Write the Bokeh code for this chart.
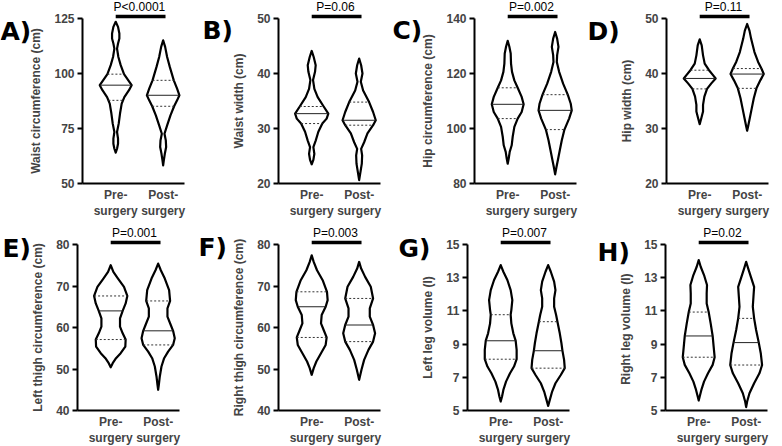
import numpy as np
from bokeh.plotting import figure
from bokeh.models import Range1d, Label, Arrow, FixedTicker
from bokeh.layouts import row, column
from bokeh.embed import file_html
from bokeh.resources import INLINE

# ---------------- data ----------------
groups = ["Pre-\nsurgery", "Post-\nsurgery"]
panel_letters = ["A)", "B)", "C)", "D)", "E)", "F)", "G)", "H)"]
y_titles = ["Waist circumference (cm)", "Waist width (cm)", "Hip circumference (cm)", "Hip width (cm)",
            "Left thigh circumference (cm)", "Right thigh circumference (cm)",
            "Left leg volume (l)", "Right  leg volume (l)"]
p_values = ["P<0.0001", "P=0.06", "P=0.002", "P=0.11", "P=0.001", "P=0.003", "P=0.007", "P=0.02"]
y_starts = [50, 20, 80, 20, 40, 40, 5, 5]
y_ends = [125, 50, 140, 50, 80, 80, 15, 15]
y_ticks = [[50, 75, 100, 125], [20, 30, 40, 50], [80, 100, 120, 140], [20, 30, 40, 50],
           [40, 50, 60, 70, 80], [40, 50, 60, 70, 80], [5, 7, 9, 11, 13, 15], [5, 7, 9, 11, 13, 15]]

# violin profiles: y value and relative density (0..50)
A_pre_y = [123.5, 121.2, 118.2, 115.9, 113.6, 111.3, 107.5, 103.8, 99.7, 96.9, 94.7, 92.4, 89.3, 86.3, 81.8, 77.2, 73.4, 70.4, 68.1, 65.8, 64.0]
A_pre_w = [0, 7, 11, 11, 7, 4, 8, 15, 25, 38, 48, 40, 26, 18, 13, 9, 4, 7, 7, 4, 0]
A_post_y = [115.1, 112.1, 107.5, 103.0, 96.9, 93.1, 90.1, 87.8, 85.1, 81.0, 76.4, 72.6, 69.6, 66.6, 63.5, 60.5, 58.2]
A_post_w = [0, 6, 12, 20, 32, 42, 49, 42, 33, 22, 12, 4, 8, 9, 5, 2, 0]
B_pre_y = [44.1, 43.0, 41.5, 40.3, 38.8, 37.2, 35.7, 34.0, 32.7, 31.8, 30.9, 29.4, 27.8, 26.6, 25.4, 24.3, 23.5]
B_pre_w = [0, 6, 12, 10, 4, 8, 18, 36, 50, 45, 32, 20, 12, 5, 8, 5, 0]
B_post_y = [42.7, 41.5, 40.0, 38.5, 36.9, 34.8, 33.0, 31.5, 30.6, 29.1, 27.5, 26.3, 25.1, 23.6, 22.1, 20.6]
B_post_w = [0, 6, 10, 5, 12, 30, 42, 50, 42, 25, 15, 6, 9, 8, 4, 0]
C_pre_y = [131.9, 129.7, 127.3, 123.6, 120.6, 117.5, 114.8, 111.5, 108.8, 106.0, 103.6, 100.6, 97.0, 93.9, 91.5, 89.1, 87.2]
C_pre_w = [0, 5, 9, 10, 13, 20, 30, 42, 48, 42, 30, 20, 15, 12, 6, 3, 0]
C_post_y = [135.1, 132.7, 129.7, 126.7, 124.2, 120.6, 116.3, 112.3, 109.0, 106.6, 103.6, 99.6, 95.7, 92.1, 89.0, 86.0, 83.3]
C_post_w = [0, 6, 10, 6, 5, 12, 24, 38, 47, 50, 42, 28, 20, 14, 9, 4, 0]
D_pre_y = [46.2, 45.1, 43.3, 41.8, 40.6, 39.7, 39.1, 38.2, 37.2, 35.8, 34.3, 33.1, 31.9, 30.8]
D_pre_w = [0, 6, 10, 15, 28, 40, 48, 35, 22, 14, 10, 10, 5, 0]
D_post_y = [49.0, 47.8, 46.3, 43.9, 42.1, 40.9, 39.9, 38.8, 37.3, 35.5, 33.7, 31.9, 30.4, 29.6]
D_post_w = [0, 7, 12, 22, 33, 43, 50, 40, 28, 20, 14, 8, 3, 0]
E_pre_y = [75.0, 73.4, 71.8, 69.8, 67.6, 65.8, 64.0, 62.2, 60.2, 58.6, 57.1, 55.4, 53.8, 52.6, 51.4, 50.4]
E_pre_w = [0, 8, 22, 40, 50, 45, 36, 28, 28, 36, 45, 44, 30, 16, 6, 0]
E_post_y = [75.4, 73.8, 71.8, 69.0, 66.4, 64.6, 62.6, 60.6, 59.2, 57.4, 55.8, 54.2, 52.6, 50.6, 48.2, 46.2, 45.0]
E_post_w = [0, 8, 20, 33, 36, 28, 28, 38, 45, 50, 45, 30, 18, 10, 5, 2, 0]
F_pre_y = [77.4, 75.8, 73.8, 71.4, 68.6, 66.6, 65.0, 63.0, 61.0, 59.4, 57.6, 55.8, 53.8, 51.8, 50.2, 48.6]
F_pre_w = [0, 6, 16, 33, 46, 48, 42, 30, 28, 36, 45, 42, 28, 14, 6, 0]
F_post_y = [75.8, 74.2, 72.2, 69.8, 67.0, 64.6, 62.6, 60.6, 58.6, 56.6, 54.6, 52.2, 49.8, 47.4]
F_post_w = [0, 6, 18, 35, 42, 32, 32, 42, 48, 42, 28, 15, 7, 0]
G_pre_y = [13.76, 13.36, 12.86, 12.25, 11.65, 11.05, 10.77, 10.25, 9.65, 9.21, 8.65, 8.09, 7.65, 7.24, 6.74, 6.24, 5.84, 5.54]
G_pre_w = [0, 8, 20, 30, 35, 32, 30, 32, 38, 45, 48, 48, 40, 28, 16, 8, 4, 0]
G_post_y = [13.76, 13.36, 12.76, 12.25, 11.75, 11.25, 10.75, 10.35, 9.65, 9.05, 8.61, 8.05, 7.55, 7.14, 6.64, 6.14, 5.64, 5.28]
G_post_w = [0, 8, 18, 22, 18, 18, 24, 28, 35, 40, 43, 48, 50, 38, 22, 12, 5, 0]
H_pre_y = [14.06, 13.66, 13.16, 12.56, 12.05, 11.45, 10.93, 10.25, 9.49, 8.85, 8.21, 7.75, 7.24, 6.74, 6.24, 5.84, 5.60]
H_pre_w = [0, 6, 16, 25, 24, 24, 30, 36, 42, 45, 48, 42, 28, 16, 8, 3, 0]
H_post_y = [13.96, 13.56, 13.06, 12.45, 11.85, 11.25, 10.55, 9.85, 9.09, 8.45, 7.74, 7.24, 6.64, 6.04, 5.54, 5.20]
H_post_w = [0, 6, 14, 24, 22, 20, 24, 30, 38, 44, 48, 40, 24, 10, 3, 0]

# quartiles: [Q1, median, Q3]
A_pre_q = [87.8, 94.7, 99.7];   A_post_q = [85.1, 90.1, 96.9]
B_pre_q = [30.9, 32.7, 34.0];   B_post_q = [30.6, 31.5, 34.8]
C_pre_q = [103.6, 108.8, 114.8]; C_post_q = [99.6, 106.6, 112.3]
D_pre_q = [37.2, 39.1, 40.6];   D_post_q = [37.3, 39.9, 40.9]
E_pre_q = [57.1, 64.0, 67.6];   E_post_q = [55.8, 59.2, 66.4]
F_pre_q = [57.6, 65.0, 68.6];   F_post_q = [56.6, 60.6, 67.0]
G_pre_q = [8.09, 9.2, 10.77];   G_post_q = [7.55, 8.6, 10.35]
H_pre_q = [8.21, 9.49, 10.93];  H_post_q = [7.74, 9.09, 10.55]

violins = [
    [(A_pre_y, A_pre_w, A_pre_q), (A_post_y, A_post_w, A_post_q)],
    [(B_pre_y, B_pre_w, B_pre_q), (B_post_y, B_post_w, B_post_q)],
    [(C_pre_y, C_pre_w, C_pre_q), (C_post_y, C_post_w, C_post_q)],
    [(D_pre_y, D_pre_w, D_pre_q), (D_post_y, D_post_w, D_post_q)],
    [(E_pre_y, E_pre_w, E_pre_q), (E_post_y, E_post_w, E_post_q)],
    [(F_pre_y, F_pre_w, F_pre_q), (F_post_y, F_post_w, F_post_q)],
    [(G_pre_y, G_pre_w, G_pre_q), (G_post_y, G_post_w, G_post_q)],
    [(H_pre_y, H_pre_w, H_pre_q), (H_post_y, H_post_w, H_post_q)],
]

# ---------------- layout / style ----------------
FONT = "Liberation Sans"
HALF = 0.35 / 50.0
X0, X1 = 0.3, 2.45
fig_w = [195, 195, 195, 197, 195, 195, 195, 197]
left_b = [82, 83, 84, 81, 77, 83, 77, 80]
frame_w = 102
letter_pos = [(0, 31), (7, 30), (2, 30), (2, 31), (2, 25), (3, 24), (8, 25), (12, 29)]


def make_panel(i):
    top = 18 if i < 4 else 21
    plot_h = 165 if i < 4 else 166
    bottom = 223 - top - plot_h
    upp_x = (X1 - X0) / frame_w
    span = y_ends[i] - y_starts[i]
    upp_y = span / plot_h
    x_lo = X0 - left_b[i] * upp_x
    x_hi = X0 + (fig_w[i] - left_b[i]) * upp_x
    y_lo = y_starts[i] - bottom * upp_y
    y_hi = y_ends[i] + top * upp_y
    p = figure(width=fig_w[i], height=223, output_backend="svg", toolbar_location=None,
               x_range=Range1d(x_lo, x_hi), y_range=Range1d(y_lo, y_hi),
               min_border_left=0, min_border_right=0, min_border_top=0, min_border_bottom=0)
    p.outline_line_color = None
    p.grid.visible = False
    for k, (ys, ws, qs) in enumerate(violins[i]):
        cx = k + 1
        ys = np.array(ys, dtype=float)
        ws = np.array(ws, dtype=float) * HALF
        xs = np.concatenate([cx + ws, (cx - ws)[::-1]])
        yy = np.concatenate([ys, ys[::-1]])
        p.patch(xs, yy, fill_color="white", line_color="black", line_width=2.2, line_join="round")
        order = np.argsort(ys)
        hw = np.interp(qs, ys[order], ws[order])
        p.segment(x0=[cx - hw[0], cx - hw[2]], y0=[qs[0], qs[2]], x1=[cx + hw[0], cx + hw[2]], y1=[qs[0], qs[2]],
                  line_color="#333333", line_width=1, line_dash="2 2")
        p.segment(x0=[cx - hw[1]], y0=[qs[1]], x1=[cx + hw[1]], y1=[qs[1]], line_color="#222222", line_width=1)

    bar_y = y_ends[i] + 2 * upp_y
    p.add_layout(Arrow(x_start=1.0, y_start=bar_y, x_end=2.05, y_end=bar_y, start=None, end=None,
                       line_width=3.5, line_color="black"))
    p.add_layout(Label(x=1.5, y=bar_y, y_offset=3, text=p_values[i], text_align="center",
                       text_baseline="bottom", text_font=FONT, text_font_size="12px", text_color="black"))
    lx, ly = letter_pos[i]
    p.add_layout(Label(x=x_lo + lx * upp_x, y=y_hi - ly * upp_y, text=panel_letters[i],
                       text_align="left", text_baseline="middle", text_font="DejaVu Sans",
                       text_font_style="bold", text_font_size="25px", text_color="black"))

    ya = p.yaxis[0]
    ya.fixed_location = X0
    ya.bounds = (y_starts[i], y_ends[i])
    ya.ticker = FixedTicker(ticks=y_ticks[i])
    ya.axis_label = y_titles[i]
    ya.axis_label_text_font = FONT
    ya.axis_label_text_font_style = "bold"
    ya.axis_label_text_font_size = "12px"
    ya.axis_label_standoff = 8
    ya.major_label_text_font = FONT
    ya.major_label_text_font_style = "bold"
    ya.major_label_text_font_size = "12px"
    ya.major_label_standoff = 3
    ya.major_tick_out = 5
    ya.major_tick_in = 0
    ya.minor_tick_out = 0
    ya.minor_tick_in = 0
    ya.axis_line_width = 2
    ya.major_tick_line_width = 2

    xa = p.xaxis[0]
    xa.fixed_location = y_starts[i]
    xa.bounds = (X0, X1)
    xa.ticker = FixedTicker(ticks=[1, 2])
    xa.major_label_overrides = {1: groups[0], 2: groups[1]}
    xa.major_label_text_font = FONT
    xa.major_label_text_font_style = "bold"
    xa.major_label_text_font_size = "12px"
    xa.major_label_standoff = 4
    xa.major_tick_out = 0
    xa.major_tick_in = 0
    xa.minor_tick_out = 0
    xa.minor_tick_in = 0
    xa.axis_line_width = 2
    return p


panels = [make_panel(i) for i in range(8)]
layout = column(row(*panels[:4], spacing=0), row(*panels[4:], spacing=0), spacing=0)

open("out.html", "w").write(file_html(layout, INLINE))
